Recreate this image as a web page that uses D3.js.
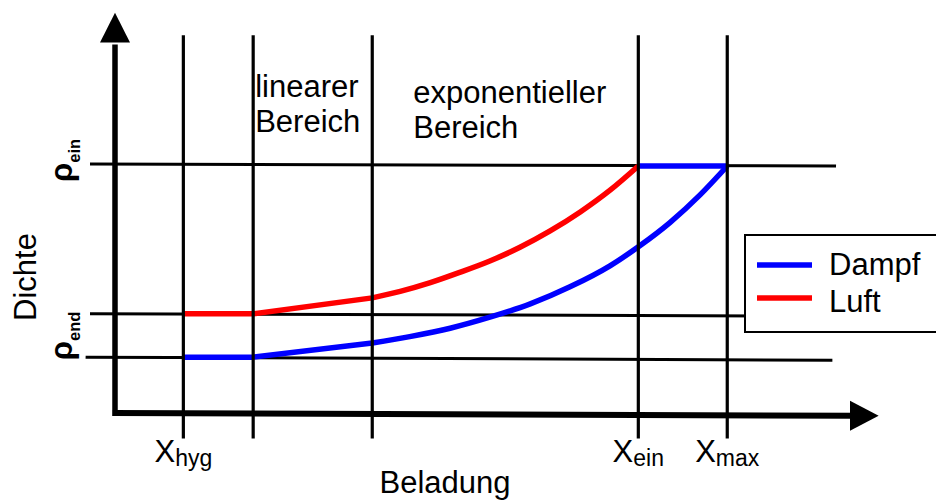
<!DOCTYPE html>
<html>
<head>
<meta charset="utf-8">
<script src="https://cdn.jsdelivr.net/npm/d3@7"></script>
<style>
  body { margin: 0; background: #fff; }
  svg { display: block; }
  text { font-family: "Liberation Sans", Arial, Helvetica, sans-serif; fill: #000; }
</style>
</head>
<body>
<svg id="chart" width="936" height="504"></svg>
<script>
// ---- data (Beladung on x, Dichte on y, both in relative units 0..100) ----
const xTickValues = [9.3, 71.2, 83.3];            // X_hyg, X_ein, X_max
const xTickSubscripts = ["hyg", "ein", "max"];
const regionBounds = [18.8, 35.0];                 // linear / exponential range limits
const guideValues = [9.3, 18.8, 35.0, 71.2, 83.3]; // vertical guide lines

// density levels: [value at left end, value at right end, right end x]
const levelEin = [65.5, 65.0, 98.1];
const levelEndLuft = [26.1, 25.5, 98.1];
const levelEnd = [14.7, 13.9, 97.6];

const rhoLabelSubs = ["ein", "end"];
const rhoLabelStart = [60.8, 13.9];

const regionLabels = [["linearer", "Bereich"], ["exponentieller", "Bereich"]];

// Dampf (vapour) density
const dampfLinear = [[9.3, 14.7], [18.8, 14.7], [35.0, 18.4]];
const dampfExp = [[35.0, 18.4], [40.1, 20.1], [45.6, 22.3], [51.0, 25.2], [56.5, 28.7],
                  [61.9, 33.2], [67.4, 38.8], [71.4, 44.0], [75.5, 50.1], [79.6, 57.4],
                  [83.3, 65.0]];
const dampfTop = [[71.2, 65.0], [83.3, 65.0]];

// Luft (air) density
const luftLinear = [[9.3, 26.1], [18.8, 26.1], [35.0, 30.3]];
const luftExp = [[35.0, 30.3], [38.8, 32.0], [42.9, 34.3], [46.9, 37.0], [51.0, 40.0],
                 [55.1, 43.6], [59.2, 47.9], [63.3, 52.9], [67.4, 58.7], [71.2, 65.0]];

const seriesNames = ["Dampf", "Luft"];
const seriesColors = ["#0000ff", "#ff0000"];

// ---- scales ----
const svg = d3.select("#chart");
const x = d3.scaleLinear().domain([0, 100]).range([115, 850]);
const y = d3.scaleLinear().domain([0, 100]).range([413, 33]);

const lin = d3.line().x(d => x(d[0])).y(d => y(d[1])).curve(d3.curveLinear);
const smooth = d3.line().x(d => x(d[0])).y(d => y(d[1])).curve(d3.curveMonotoneX);

// ---- horizontal density levels (with left tick stubs) ----
const levels = [levelEin, levelEndLuft, levelEnd];
svg.append("g").selectAll("line").data(levels).join("line")
  .attr("x1", (d, i) => x(i === 2 ? -4 : -3.4))
  .attr("y1", d => y(d[0]))
  .attr("x2", d => x(d[2]))
  .attr("y2", d => y(d[1]))
  .attr("stroke", "#000").attr("stroke-width", 3);

// ---- curves ----
const curves = svg.append("g").attr("fill", "none").attr("stroke-width", 5.5)
  .attr("stroke-linejoin", "round");
curves.append("path").attr("d", lin(luftLinear) + smooth(luftExp).replace(/^M/, "L"))
  .attr("stroke", seriesColors[1]);
curves.append("path").attr("d", lin(dampfLinear) + smooth(dampfExp).replace(/^M/, "L"))
  .attr("stroke", seriesColors[0]);
curves.append("path").attr("d", lin(dampfTop)).attr("stroke", seriesColors[0]);

// ---- vertical guide lines ----
svg.append("g").selectAll("line").data(guideValues).join("line")
  .attr("x1", d => x(d)).attr("x2", d => x(d))
  .attr("y1", y(99.4)).attr("y2", y(-6.7))
  .attr("stroke", "#000").attr("stroke-width", 3.2);

// ---- axes with arrow heads ----
const axes = svg.append("g");
axes.append("line")
  .attr("x1", x(0)).attr("y1", y(-0.8)).attr("x2", x(0)).attr("y2", y(97))
  .attr("stroke", "#000").attr("stroke-width", 5.5);
axes.append("path")
  .attr("d", `M${x(0)},${y(105.3)} L${x(0) - 15},${y(97.5)} L${x(0) + 15},${y(97.5)} Z`)
  .attr("fill", "#000");
axes.append("line")
  .attr("x1", x(-0.3)).attr("y1", y(0)).attr("x2", x(100.5)).attr("y2", y(-0.75))
  .attr("stroke", "#000").attr("stroke-width", 6);
axes.append("path")
  .attr("d", `M${x(103.9)},${y(-0.75)} L${x(100)},${y(-0.75) - 15} L${x(100)},${y(-0.75) + 15} Z`)
  .attr("fill", "#000");

// ---- x tick labels: X with subscripts ----
const xl = svg.append("g").selectAll("text").data(xTickValues).join("text")
  .attr("x", d => x(d)).attr("y", 462)
  .attr("text-anchor", "middle").attr("font-size", 31);
xl.append("tspan").text("X");
xl.append("tspan").attr("font-size", 23).attr("dy", 4).text((d, i) => xTickSubscripts[i]);

// ---- axis titles ----
svg.append("text").attr("x", 445).attr("y", 493).attr("text-anchor", "middle")
  .attr("font-size", 31).text("Beladung");
svg.append("text").attr("transform", "translate(36,277) rotate(-90)")
  .attr("text-anchor", "middle").attr("font-size", 31).text("Dichte");

// ---- rho labels (rotated) ----
const rl = svg.append("g").selectAll("text").data(rhoLabelStart).join("text")
  .attr("transform", d => `translate(72,${y(d)}) rotate(-90)`)
  .attr("font-size", 31).attr("font-weight", "bold");
rl.append("tspan").text("ρ");
rl.append("tspan").attr("font-size", 16.5).attr("dy", 8)
  .text((d, i) => rhoLabelSubs[i]);

// ---- region labels ----
const regionTextX = [x(regionBounds[0]) + 2, x(regionBounds[1]) + 41];
const regionTextY = [97, 103];
regionLabels.forEach((lines, i) => {
  const t = svg.append("text").attr("font-size", 31);
  lines.forEach((s, j) => {
    t.append("tspan").attr("x", regionTextX[i]).attr("y", regionTextY[i] + j * 35).text(s);
  });
});

// ---- legend ----
const lg = svg.append("g").attr("transform", "translate(745,235)");
lg.append("rect").attr("width", 210).attr("height", 97)
  .attr("fill", "#fff").attr("stroke", "#000").attr("stroke-width", 2);
seriesNames.forEach((name, i) => {
  lg.append("line").attr("x1", 12).attr("x2", 67)
    .attr("y1", 30 + i * 33).attr("y2", 30 + i * 33)
    .attr("stroke", seriesColors[i]).attr("stroke-width", 5.5);
  lg.append("text").attr("x", 84).attr("y", 40 + i * 37).attr("font-size", 31).text(name);
});
</script>
</body>
</html>
